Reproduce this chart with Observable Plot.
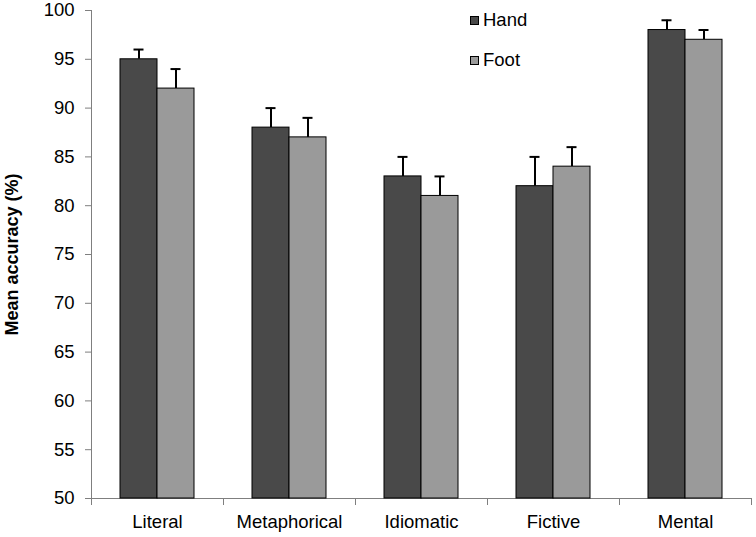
<!DOCTYPE html>
<html>
<head>
<meta charset="utf-8">
<script src="https://cdn.jsdelivr.net/npm/d3@7"></script>
<script src="https://cdn.jsdelivr.net/npm/@observablehq/plot@0.6"></script>
<style>
  html, body { margin: 0; padding: 0; background: #fff; }
  #wrap { position: relative; width: 756px; height: 537px; }
  #wrap svg text { fill: #000; }
  .legend { position: absolute; left: 470px; top: 0; font-family: "Liberation Sans", Arial, sans-serif; font-size: 18.5px; color: #000; }
  .legend .item { position: absolute; left: 0; white-space: nowrap; display: flex; align-items: center; }
  .legend .sw { width: 7px; height: 7px; border: 1px solid #000; margin-right: 4px; }
</style>
</head>
<body>
<div id="wrap"></div>
<script>
const categories = ["Literal", "Metaphorical", "Idiomatic", "Fictive", "Mental"];
const seriesNames = ["Hand", "Foot"];
const handMean = [95, 88, 83, 82, 98];
const footMean = [92, 87, 81, 84, 97];
const handErr = [1, 2, 2, 3, 1];
const footErr = [2, 2, 2, 2, 1];
const yTicks = [50, 55, 60, 65, 70, 75, 80, 85, 90, 95, 100];
const colors = ["#494949", "#9a9a9a"];

const rows = [];
categories.forEach((c, i) => {
  rows.push({category: c, series: "Hand", mean: handMean[i], err: handErr[i]});
  rows.push({category: c, series: "Foot", mean: footMean[i], err: footErr[i]});
});

const H = 537, mt = 10, mb = 39;
const innerH = H - mt - mb;

const chart = Plot.plot({
  width: 756,
  height: H,
  marginLeft: 89,
  marginRight: 4,
  marginTop: mt,
  marginBottom: mb,
  style: {fontFamily: "Liberation Sans, Arial, sans-serif", fontSize: "18.5px", color: "#7f7f7f", background: "#fff"},
  fx: {domain: categories, padding: 0, tickSize: 0, tickPadding: 16, label: null},
  x: {domain: seriesNames, paddingInner: 0, paddingOuter: 0.754, axis: null},
  y: {domain: [50, 100], ticks: yTicks, tickSize: 6, tickPadding: 11, line: true,
      label: "Mean accuracy (%)", labelAnchor: "center", labelOffset: 86, labelArrow: "none"},
  color: {domain: seriesNames, range: colors},
  marks: [
    Plot.ruleY([50], {stroke: "#7f7f7f"}),
    Plot.frame({anchor: "left", insetTop: innerH, insetBottom: -6, stroke: "#7f7f7f"}),
    Plot.frame({anchor: "right", insetTop: innerH, insetBottom: -6, stroke: "#7f7f7f"}),
    Plot.ruleX(rows, {fx: "category", x: "series", y1: "mean", y2: d => d.mean + d.err, stroke: "#000", strokeWidth: 2}),
    Plot.tickY(rows, {fx: "category", x: "series", y: d => d.mean + d.err, stroke: "#000", strokeWidth: 2, insetLeft: 13.5, insetRight: 13.5}),
    Plot.barY(rows, {fx: "category", x: "series", y1: 50, y2: "mean", fill: "series", stroke: "#000", strokeWidth: 1})
  ]
});

const wrap = document.getElementById("wrap");
wrap.appendChild(chart);

// bold y-axis title
chart.querySelectorAll("text").forEach(t => {
  if (t.textContent.trim().startsWith("Mean accuracy")) {
    t.setAttribute("font-weight", "bold");
    t.setAttribute("font-size", "18px");
  }
});

// legend
const legend = document.createElement("div");
legend.className = "legend";
const legendTops = [9, 49];
seriesNames.forEach((s, i) => {
  const item = document.createElement("div");
  item.className = "item";
  item.style.top = legendTops[i] + "px";
  const sw = document.createElement("span");
  sw.className = "sw";
  sw.style.background = colors[i];
  const lab = document.createElement("span");
  lab.textContent = s;
  item.appendChild(sw);
  item.appendChild(lab);
  legend.appendChild(item);
});
wrap.appendChild(legend);
</script>
</body>
</html>
